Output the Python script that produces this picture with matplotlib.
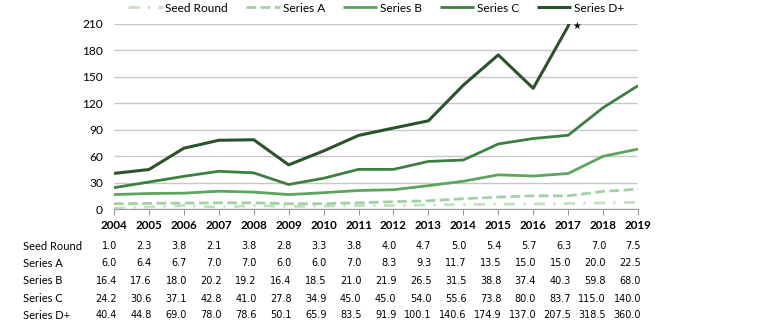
import numpy as np
import matplotlib.pyplot as plt

years = list(range(2004, 2020))
series_names = ["Seed Round", "Series A", "Series B", "Series C", "Series D+"]
seed = [1.0, 2.3, 3.8, 2.1, 3.8, 2.8, 3.3, 3.8, 4.0, 4.7, 5.0, 5.4, 5.7, 6.3, 7.0, 7.5]
series_a = [6.0, 6.4, 6.7, 7.0, 7.0, 6.0, 6.0, 7.0, 8.3, 9.3, 11.7, 13.5, 15.0, 15.0, 20.0, 22.5]
series_b = [16.4, 17.6, 18.0, 20.2, 19.2, 16.4, 18.5, 21.0, 21.9, 26.5, 31.5, 38.8, 37.4, 40.3, 59.8, 68.0]
series_c = [24.2, 30.6, 37.1, 42.8, 41.0, 27.8, 34.9, 45.0, 45.0, 54.0, 55.6, 73.8, 80.0, 83.7, 115.0, 140.0]
series_d = [40.4, 44.8, 69.0, 78.0, 78.6, 50.1, 65.9, 83.5, 91.9, 100.1, 140.6, 174.9, 137.0, 207.5, 318.5, 360.0]
y_ticks = [0, 30, 60, 90, 120, 150, 180, 210]

all_series = [seed, series_a, series_b, series_c, series_d]
colors = ["#c3e0c3", "#a2d2a2", "#5ba65b", "#3e7f41", "#2b532b"]
widths = [2.0, 2.0, 2.0, 2.0, 2.2]
dashes = [(4, 3, 0.8, 3), (3.5, 1.6), None, None, None]

plt.rcParams['font.family'] = ['Lato', 'DejaVu Sans']

fig = plt.figure(figsize=(7.61, 3.30), dpi=100)
ax = fig.add_axes([114 / 761, 1 - 209 / 330, 524 / 761, 185 / 330])

for name, vals, c, lw, d in zip(series_names, all_series, colors, widths, dashes):
    line, = ax.plot(years, vals, color=c, lw=lw, label=name, solid_capstyle='butt')
    if d is not None:
        line.set_dashes(d)
        line.set_dash_capstyle('butt')

ax.set_xlim(years[0], years[-1])
ax.set_ylim(0, 210)
ax.set_yticks(y_ticks)
ax.set_xticks(years)
ax.set_xticklabels([str(y) for y in years], fontweight='bold', fontsize=8.4)
ax.tick_params(axis='y', length=0, labelsize=8.6, pad=8)
ax.tick_params(axis='x', length=4, color='#999999', direction='out', pad=4)
ax.grid(axis='y', color='#c8c8c8', lw=1)
ax.set_axisbelow(True)
for s in ['left', 'right', 'top']:
    ax.spines[s].set_visible(False)
ax.spines['bottom'].set_color('#999999')

# star marking the clipped Series D+ line
ax.text(2017.12, 207.5, "\u2605", fontsize=7, ha='left', va='center',
        family='DejaVu Sans', clip_on=False)

leg = ax.legend(loc='center', bbox_to_anchor=(0.5, 1.086), ncol=5, frameon=False,
                fontsize=8.6, handlelength=2.9, columnspacing=1.5, handletextpad=0.2,
                borderaxespad=0)

# data table under the chart
row_y = [246, 263.5, 281, 298.5, 315.5]
for name, vals, y in zip(series_names, all_series, row_y):
    fig.text(23 / 761, 1 - y / 330, name, fontsize=8, ha='left', va='center')
    for yr, v in zip(years, vals):
        xpix = ax.transData.transform((yr, 0))[0] + 3
        fig.text(xpix / 761, 1 - y / 330, f"{v:.1f}", fontsize=7, ha='right',
                 va='center', family='DejaVu Sans')

fig.savefig("out.png", dpi=100)
